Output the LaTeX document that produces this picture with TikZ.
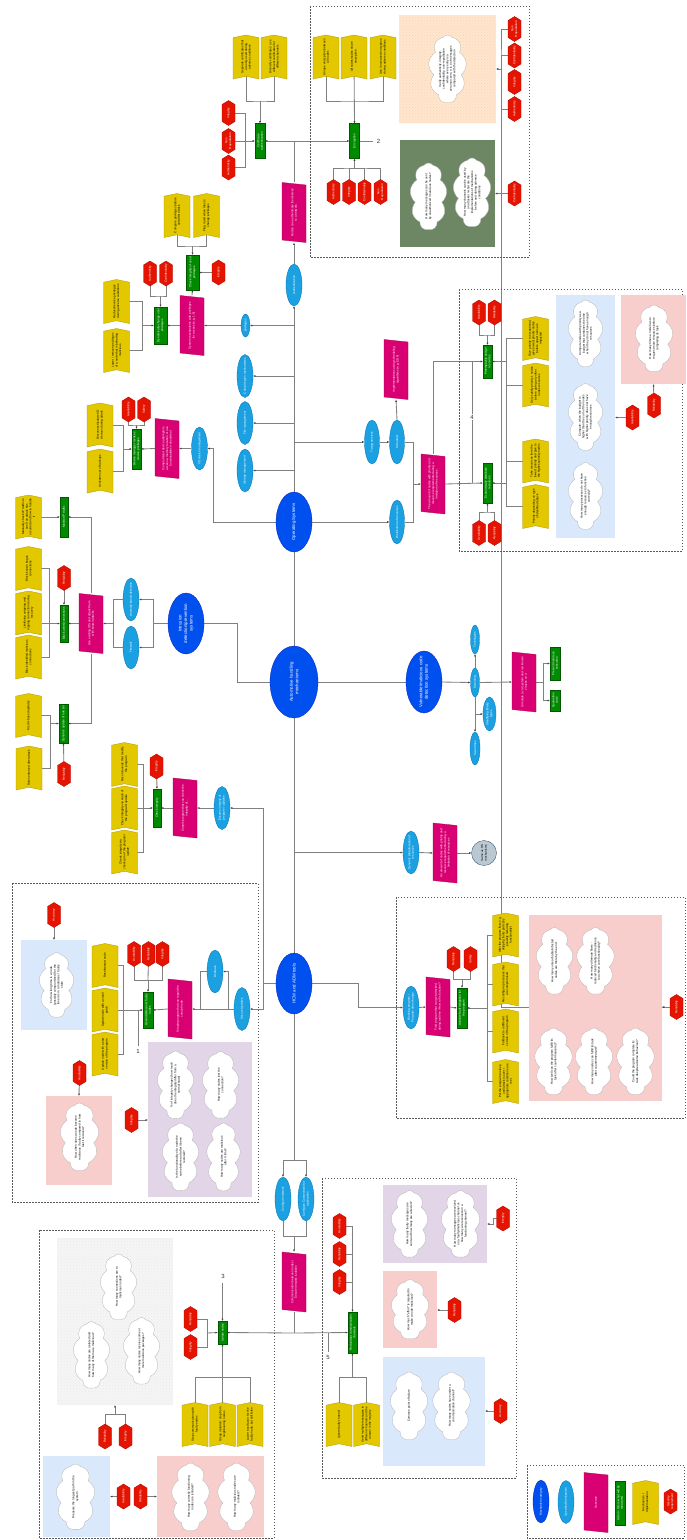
\documentclass[tikz,border=0pt]{standalone}
\usepackage{fontspec}
\setmainfont{Liberation Sans}
\usepackage{graphicx}
\usetikzlibrary{shapes.geometric,shapes.symbols,arrows.meta,patterns,fit,calc}
\definecolor{catf}{HTML}{0050EF}\definecolor{catd}{HTML}{001DBC}
\definecolor{mecf}{HTML}{1BA1E2}\definecolor{mecd}{HTML}{006EAF}
\definecolor{magc}{HTML}{D80073}\definecolor{magd}{HTML}{A50040}
\definecolor{grc}{HTML}{008A00}\definecolor{grd}{HTML}{005700}
\definecolor{yelc}{HTML}{E3C800}\definecolor{yeld}{HTML}{B09500}
\definecolor{redc}{HTML}{E51400}\definecolor{redd}{HTML}{B20000}
\definecolor{peachc}{HTML}{FFE6CC}\definecolor{peachd}{HTML}{F9D6B8}
\definecolor{olivc}{HTML}{6D8764}
\definecolor{bluec}{HTML}{DAE8FC}\definecolor{pinkc}{HTML}{F8CECC}
\definecolor{purpc}{HTML}{E1D5E7}\definecolor{greyc}{HTML}{F5F5F5}
\definecolor{circc}{HTML}{BAC8D3}\definecolor{circd}{HTML}{23445D}
\definecolor{lncol}{HTML}{808080}
\pgfdeclarelayer{bg}\pgfsetlayers{bg,main}
\newcommand\rtx[2]{\rotatebox{90}{\parbox{\dimexpr#1\relax}{\centering #2}}}
\tikzset{
 ln/.style={draw=lncol,line width=0.85pt},
 arr/.style={ln,-{Latex[length=2.2pt,width=2pt,color=black!75]}},
 small/.style={font=\fontsize{3}{3.6}\selectfont},
 yelf/.style={fill=yelc,draw=yeld,line width=0.3pt},
 yelt/.style={small,inner sep=0,minimum width=26pt,minimum height=44pt,text=black},
 redf/.style={fill=redc,draw=redd,line width=0.3pt},
 redt/.style={small,inner sep=0,minimum width=13pt,minimum height=25pt,text=white},
 magf/.style={fill=magc,draw=magd,line width=0.3pt},
 magt/.style={small,inner sep=0,minimum width=24pt,minimum height=60pt,text=white},
 grf/.style={rectangle,fill=grc,draw=grd,line width=0.3pt,inner sep=0},
 grt/.style={small,inner sep=0,text=white},
 mech/.style={ellipse,fill=mecf,draw=mecd,line width=0.3pt,inner sep=0},
 mecht/.style={small,inner sep=0,text=white},
 cat/.style={ellipse,fill=catf,draw=catd,line width=0.3pt,inner sep=0},
 catt/.style={font=\fontsize{4.4}{5.4}\selectfont,inner sep=0,text=white},
 cloudst/.style={cloud,cloud puffs=9,cloud puff arc=110,cloud ignores aspect,fill=white,draw=black!30,line width=0.3pt,inner sep=0},
 cltxt/.style={small,inner sep=0,text=black},
 boxst/.style={rectangle,inner sep=0,line width=0.3pt},
 dashbox/.style={draw=black!65,line width=0.5pt,dash pattern=on 1.5pt off 1.5pt},
 numl/.style={font=\fontsize{6}{7}\selectfont,inner sep=0.6pt,fill=white,text=black!80}
}
\newcommand\YE[4]{%
 \fill[yelf] (#2-13,#3-19.3) -- (#2,#3-22) -- (#2+13,#3-19.3) -- (#2+13,#3+22) -- (#2,#3+19.3) -- (#2-13,#3+22) -- cycle;
 \node[yelt] (#1) at (#2,#3) {\rtx{37pt}{#4}};}
\newcommand\RE[4]{%
 \fill[redf] (#2,#3-12.5) -- (#2+6.5,#3-8.5) -- (#2+6.5,#3+8.5) -- (#2,#3+12.5) -- (#2-6.5,#3+8.5) -- (#2-6.5,#3-8.5) -- cycle;
 \node[redt] (#1) at (#2,#3) {\rtx{22pt}{#4}};}
\newcommand\MG[4]{%
 \fill[magf] (#2-12,#3-30) -- (#2+12,#3-27.5) -- (#2+12,#3+30) -- (#2-12,#3+27.5) -- cycle;
 \node[magt] (#1) at (#2,#3) {\rtx{50pt}{#4}};}
\newcommand\GR[6]{%
 \node[grf,minimum width=#4pt,minimum height=#5pt] (#1) at (#2,#3) {};
 \node[grt] (#1t) at (#1) {\rtx{#5pt-3pt}{#6}};}
\newcommand\EL[7]{%
 \node[#1,minimum width=#5pt,minimum height=#6pt] (#2) at (#3,#4) {};
 \node[#1t] (#2t) at (#2) {\rtx{#6pt*17/20}{#7}};}
\newcommand\CL[6]{%
 \node[cloudst,minimum width=#4pt,minimum height=#5pt] (#1) at (#2,#3) {};
 \node[cltxt] (#1t) at (#1) {\rtx{#5pt*7/10}{#6}};}
\begin{document}
\begin{tikzpicture}[x=1pt,y=-1pt]
\useasboundingbox (0,0) rectangle (686,1540);
% ---------- dashed frames
\draw[dashbox] (310,6) rectangle (529,257);
\draw[dashbox] (459,289) rectangle (682,551);
\draw[dashbox] (12,883) rectangle (258,1202);
\draw[dashbox] (396,897) rectangle (685,1118);
\draw[dashbox] (39,1230) rectangle (274,1538);
\draw[dashbox] (322,1178) rectangle (516,1478);
\draw[dashbox] (527,1465) rectangle (684,1538);
% ---------- boxes
\node[boxst,fit={(399,15) (496,123)},fill=peachc] (peach) {};
\fill[pattern=crosshatch dots,pattern color=peachd] (399,15) rectangle (496,123);
\node[boxst,fit={(400,140) (495,247)},fill=olivc] (olive) {};
\node[boxst,fit={(556,295) (615,538)},fill=bluec] (blueA) {};
\node[boxst,fit={(621,295) (686,384)},fill=pinkc] (pinkA) {};
\node[boxst,fit={(21,940) (87,1030)},fill=bluec] (blueB) {};
\node[boxst,fit={(46,1096) (112,1185)},fill=pinkc] (pinkB) {};
\node[boxst,fit={(148,1042) (252,1197)},fill=purpc] (purpB) {};
\node[boxst,fit={(529,915) (662,1101)},fill=pinkc] (pinkC) {};
\node[boxst,fit={(57,1238) (173,1405)},fill=greyc] (greyD) {};
\fill[pattern=crosshatch dots,pattern color=black!8] (57,1238) rectangle (173,1405);
\node[boxst,fit={(43,1456) (110,1537)},fill=bluec] (blueD) {};
\node[boxst,fit={(157,1456) (264,1537)},fill=pinkc] (pinkD) {};
\node[boxst,fit={(383,1185) (487,1263)},fill=purpc] (purpE) {};
\node[boxst,fit={(383,1271) (437,1348)},fill=pinkc] (pinkE) {};
\node[boxst,fit={(383,1357) (485,1466)},fill=bluec] (blueE) {};
% ---------- categories
\EL{cat}{OS}{294}{522}{36}{60}{Operating Systems}
\EL{cat}{Auto}{294}{682}{48}{72}{Automotive handling mechanisms}
\EL{cat}{Intr}{186}{623.5}{36}{61}{Intrusion detection/prevention systems}
\EL{cat}{Vul}{424}{682}{36}{62}{Vulnerable/malicious code detection systems}
\EL{cat}{HCM}{294}{983.5}{36}{61}{HCM and ADM tools}
% ---------- top region
\YE{Ya}{246}{57}{Separate certificates that are only used during adverse conditions}
\YE{Yb}{274}{57}{Diversify certificates: use different certificates for different channels}
\YE{Yc}{326}{57}{Unique encryption between all nodes}
\YE{Yd}{354}{57}{All nodes/nodes share encryption}
\YE{Ye}{383}{57}{Use / Increased encryption during adverse conditions}
\GR{Gcert}{260}{141}{10}{35}{Certificate authentication}
\GR{Genc}{354.5}{141}{10}{35}{Encryption}
\RE{Rca}{228.5}{113}{Integrity}
\RE{Rcb}{228.5}{141}{Non Repudiation}
\RE{Rcc}{228.5}{167.5}{Authenticity}
\RE{Rea}{333.5}{192}{Authenticity}
\RE{Reb}{349}{192}{Integrity}
\RE{Rec}{364.5}{192}{Confidentiality}
\RE{Red}{380.5}{192}{Non Repudiation}
\node[numl] (n2) at (378.5,141) {2};
\MG{Mauth}{294}{212.5}{Nodes can authenticate themselves to a network.}
\EL{mech}{Auth}{294}{285}{16}{42}{Authentication}
\CL{Cpe}{447.5}{69}{38}{68}{Verify authenticity, integrity, confidentiality, non-repudiation where every entry is a zero/non-zero, n is \# of messages compared with the detection}
\RE{Rpa}{514.5}{29}{Non Repudiation}
\RE{Rpb}{514.5}{55.5}{Confidentiality}
\RE{Rpc}{514.5}{82}{Integrity}
\RE{Rpd}{514.5}{109}{Authenticity}
\CL{Col}{428.5}{196.5}{37}{67}{How many messages can be sent by unauthorized / malicious nodes?}
\CL{Co2}{472}{192.5}{38}{69}{How many channels can be used by an attacker / what are the implementations of mechanisms before and during adverse conditions}
\RE{Rol}{514.5}{193.5}{Confidentiality}
% ---------- privileges
\YE{Yf}{177}{215.5}{Compare privileges before and after attack}
\YE{Yg}{206.5}{215.5}{Flag / alert when tries to change privileges}
\GR{Gchk}{192.5}{272.5}{13}{35}{Check integrity of used privileges}
\RE{Rck}{218.5}{272.5}{Integrity}
\RE{Rda}{150}{273.5}{Authenticity}
\RE{Rdb}{166}{273.5}{Confidentiality}
\GR{Gdyn}{160.5}{325.5}{13}{37}{Dynamically change user privileges}
\MG{Mpriv}{192}{325.5}{System mechanisms with privileges for access (e.g. 1-5)}
\EL{mech}{Epriv}{245.5}{325.5}{9}{23}{privileges}
\YE{Yh}{116.5}{301.5}{Reduce/revoke privileges during adverse conditions}
\YE{Yi}{116.5}{350.5}{Lower / remove privileges of a node that is behaving malicious}
\EL{mech}{Ecrit}{245}{376}{16}{43}{Critical region mechanisms}
\EL{mech}{Efile}{245}{423}{16}{43}{File management}
\EL{mech}{Estor}{245}{470.5}{16}{43}{Storage management}
% ---------- I/O
\EL{mech}{Eio}{199.5}{448.5}{16}{43}{I/O device management}
\MG{Mio}{167}{448.5}{Compromised device attempts to access a memory location or use functionalities it should not}
\GR{Gio}{136.5}{449}{9}{40}{Device manager revokes device privileges}
\RE{Ria}{128.5}{409.5}{Availability}
\RE{Rib}{144}{409.5}{Safety}
\YE{Yj}{100}{425}{Disconnect/isolate I/O devices during attack}
\YE{Yk}{100}{471}{Activates set of backups}
% ---------- OS right
\EL{mech}{Etim}{372}{442}{15}{44}{Timing services}
\EL{mech}{Esch}{397}{442}{15}{44}{Scheduler}
\EL{mech}{Edist}{397}{522}{15}{44}{Distribution of resources}
\MG{Msch}{396}{369.5}{Implementations using scheduling algorithms (e.g. EDF)}
\MG{Mres}{433}{484}{The amount of nodes with priority and resource requirements during a limitation of resources.}
\GR{Gpre}{487.5}{361.5}{9}{33}{Preemptively assign resources}
\GR{Geco}{487.5}{483}{9}{40}{Economically distribute resources}
\node[numl] (n4) at (472,417) {4};
\RE{Rsa}{479}{312.5}{Availability}
\RE{Rsb}{494.5}{312.5}{Reliability}
\RE{Rsc}{479}{533}{Availability}
\RE{Rsd}{494.5}{533}{Reliability}
\YE{Yl}{535.5}{338.5}{Give priority to exceptional, give lowest priority nodes before upper ones are impacted}
\YE{Ym}{535.5}{385}{Only satisfy priority 1 nodes before giving any other nodes resources}
\YE{Yn}{535.5}{461}{Take resources from the lowest priority and give to the highest priority nodes}
\YE{Yo}{535.5}{506.5}{Priority depending on type of identified attack}
\CL{Cba}{585.5}{333.5}{35}{67}{Compute nodes with priority as a budget that combines the time when they do not have enough resources}
\CL{Cbb}{585.5}{417}{35}{67}{Compute: when the budget is higher than the sum of the nodes with higher priority does not have enough resources}
\CL{Cbc}{585.5}{496}{35}{67}{How many processes do not have enough resources to function correctly?}
\RE{Rba}{632.5}{417.5}{Availability}
\CL{Cpa}{654}{338.5}{38}{67}{How many times a node has to request more resources before completing its task}
\RE{Rpk}{654}{405.5}{Reliability}
% ---------- intrusion
\YE{Yp}{28.5}{517}{Manually check IP traffic to see if an attack has occurred and how to handle it}
\GR{Gmon}{64}{517}{8}{40}{Monitor IP traffic}
\RE{Rbl}{64}{578}{Reliability}
\GR{Gblk}{64}{623.5}{8}{37}{Block users/connections}
\YE{Yq}{28.5}{568.5}{Block known bogus connections}
\YE{Yr}{28.5}{613}{Limit/stop outgoing and ingoing connection during recovery}
\YE{Ys}{28.5}{657}{Block identified malicious connections}
\MG{Mids}{91}{623.5}{Use existing IDS and attack them with known attacks}
\EL{mech}{Eano}{131}{599.5}{16}{43}{Anomaly-based detection}
\EL{mech}{Efw}{131}{647.5}{16}{43}{Firewall}
\GR{Gdu}{63.5}{723.5}{9}{39}{Dynamic update of rule set}
\YE{Yt}{28.5}{715.5}{ML-/AI-based updates}
\YE{Yu}{29}{768}{Rules enforced after attack}
\RE{Rdu}{64}{774}{Reliability}
% ---------- vulnerable code
\EL{mech}{Escan}{475}{682.5}{9}{29}{Scanning}
\EL{mech}{Etech}{475}{639.5}{9}{29}{Techniques}
\EL{mech}{Etimes}{475}{748.5}{10}{33}{Scan times}
\EL{mech}{Espot}{489.5}{714}{13}{34}{Identifying library types}
\MG{Mvul}{524}{682}{Simulate a car system and run known viruses on it}
\GR{Gprev}{555}{663.5}{10}{33}{Prevent malicious execution}
\GR{Gquar}{555}{700.5}{10}{21}{Quarantine code}
% ---------- integrity
\YE{Yv}{124.5}{764.5}{Record events that modify the program}
\YE{Yw}{124.5}{808}{Check integrity via Hash of the program/ update}
\YE{Yx}{124.5}{852}{Check integrity via checksum of the program/ update}
\RE{Rci}{156.5}{766.5}{Integrity}
\GR{Gci}{157}{808}{8}{38}{Check integrity}
\MG{Mci}{185}{808}{Simple program that can check the integrity of...}
\EL{mech}{Eint}{222}{808}{16}{43}{Ensures integrity of program / updates}
% ---------- dynamic allocation
\EL{mech}{Edyn}{411}{852.5}{16}{43}{Dynamic (de)allocation of resources}
\MG{Mdyn}{445}{853}{An amount of nodes with priority and resource requirements during a limitation of resources}
\node[circle,fill=circc,draw=circd,line width=0.3pt,minimum size=25pt,inner sep=0] (Csame) at (484,853) {};
\node[small,inner sep=0] (Csamet) at (Csame) {\rtx{20pt}{Same as OS mechanisms}};
% ---------- HCM left
\EL{mech}{Esec}{242}{1009}{16}{43}{Secure Updates}
\EL{mech}{Erol}{215}{971.5}{16}{43}{Rollback}
\MG{Mrep}{180}{1009}{Simple program that can repair the corrupt node}
\GR{Grec}{148}{1010}{10}{36}{Override/Recover faulty nodes}
\RE{Rra}{134}{954}{Availability}
\RE{Rrb}{148.5}{954}{Reliability}
\RE{Rrc}{162.5}{954}{Integrity}
\YE{Yy}{105}{965.5}{Reset/restart node}
\YE{Yz}{105}{1010}{Update node with a small patch}
\YE{YA}{105}{1054}{Update node with a new version of the program}
\node[numl] (n1) at (138,1051) {1};
\RE{Racc}{54}{915}{Accuracy}
\CL{Cbl}{56.5}{985}{35}{65}{For how long time is a node (possibly compromised) for the time it is in a malicious / faulty state}
\RE{Rav}{79.5}{1073}{Availability}
\CL{Cpk}{79.5}{1137}{39}{68}{How often does a node become malicious / faulty compared to how fast it recovers?}
\RE{Rpi}{131.5}{1120}{Integrity}
\CL{Cpu1}{175.5}{1085}{37}{68}{\% of integrity changes (how much does the integrity differ from a normal state)}
\CL{Cpu2}{220.5}{1085}{37}{67}{How many nodes lost the connection?}
\CL{Cpu3}{180.5}{1157}{37}{68}{Is the functionality of a node the same before and after it been restored?}
\CL{Cpu4}{223.5}{1157}{34}{68}{How many nodes are malicious after X time?}
% ---------- HCM right
\EL{mech}{Eblk}{411}{1007.5}{16}{43}{Blocking program / Program does change}
\MG{Mblk}{438}{1007}{Find program that can get attacked during runtime / How to fix function?}
\GR{Gact}{462}{1008}{10}{40}{Activate fault mitigation for the program}
\RE{Rha}{453.5}{959}{Reliability}
\RE{Rhb}{470.5}{959}{Safety}
\YE{YB}{505.5}{935}{Alter the program flow, e.g. skipping faulty parts (by possibly reducing functionality)}
\YE{YC}{505.5}{984}{Reconfigure processes that are compromised}
\YE{YD}{505.5}{1031}{Fallback to a different version of the program}
\YE{YE}{505.5}{1081.5}{Put the program to sleep until attack is over / appropriate conditions are met}
\CL{Cpc1}{554.5}{961}{37}{67}{How many unreachable/infected nodes are there by the end}
\CL{Cpc2}{595.5}{961}{38}{67}{How many alternate flows - reduced functionality and resilience to achieve core functionality?}
\CL{Cpc3}{553.5}{1061.5}{38}{67}{How well can the program fulfill its task after countermeasures?}
\CL{Cpc4}{594}{1061.5}{38}{67}{How many nodes can fulfill its task after countermeasure?}
\CL{Cpc5}{635.5}{1061.5}{38}{67}{Could the program complete its task despite adverse behaviour?}
\RE{Rpc}{676.5}{1007}{Reliability}
% ---------- bottom
\EL{mech}{Ecnet}{283}{1199}{16}{44}{Configure network}
\EL{mech}{Ecapp}{306}{1199}{16}{44}{Configure Connections for application}
\MG{Mnet}{294}{1282}{Communication between nodes / Ensure network isolation}
\GR{Giso}{222.5}{1332.5}{9}{23}{Isolate nodes}
\GR{Gred}{352.5}{1332.5}{9}{41}{Redundant communication channels}
\node[numl] (n3) at (223,1276) {3};
\node[numl] (n5) at (328,1357) {5};
\RE{Rja}{190.5}{1319}{Reliability}
\RE{Rjb}{190.5}{1347}{Integrity}
\YE{YF}{195}{1424.5}{Stop communication with faulty nodes}
\YE{YG}{222.5}{1424.5}{Group isolation: stop from neighbouring nodes}
\YE{YH}{250}{1424.5}{Lower trust factor for the faulty node, but still listen}
\CL{Cg1}{118.5}{1287}{37}{66}{How many connections are to malicious nodes?}
\CL{Cg2}{91.5}{1355}{37}{67}{How many nodes are isolated and how many of them are malicious?}
\CL{Cg3}{141.5}{1351}{37}{67}{How many nodes receive some or more malicious packages?}
\RE{Rga}{105}{1436.5}{Reliability}
\RE{Rgb}{125.5}{1436.5}{Integrity}
\CL{Cbd}{75.5}{1497}{39}{66}{Measure the longest path in the system}
\RE{Rka}{123.5}{1496.5}{Availability}
\RE{Rkb}{140.5}{1496.5}{Reliability}
\CL{Cpd1}{190.5}{1497}{38}{68}{How many correctly functioning nodes are isolated?}
\CL{Cpd2}{236.5}{1497}{38}{68}{How many malicious nodes are isolated?}
\RE{Rma}{339.5}{1226}{Availability}
\RE{Rmb}{339.5}{1254}{Reliability}
\RE{Rmc}{339.5}{1282}{Integrity}
\YE{YI}{339}{1424.5}{Ignore faulty channel}
\YE{YJ}{366.5}{1424.5}{Send multiple messages in different channels and the answer is the majority}
\CL{Ce1}{409.5}{1224}{37}{67}{How many faulty messages are sent and how many are acted on?}
\CL{Ce2}{460.5}{1224}{39}{67}{How many messages are received on a faulty/malicious channel vs how many are received on a functioning channel?}
\RE{Rea2}{503}{1218.5}{Integrity}
\CL{Ce3}{410}{1309.5}{38}{60}{How much ``effort'' is required to make a node malicious?}
\RE{Reb2}{454.5}{1310}{Reliability}
\CL{Ce4}{409}{1406}{38}{68}{Common point of failure}
\CL{Ce5}{451.5}{1406}{38}{68}{How many nodes have under a communication channel?}
\RE{Rec2}{500.5}{1411}{Accuracy}
% ---------- legend
\EL{cat}{Lcat}{541}{1501.5}{16}{43}{}
\node[small,text=white,inner sep=0] (Lcatt2) at (Lcat) {\rtx{36pt}{Mechanism category}};
\EL{mech}{Lmec}{566}{1502}{16}{43}{Specified Mechanism}
\MG{Lmag}{596}{1502.5}{Usecase}
\GR{Lgr}{620}{1503}{10}{44}{Action - this is what will be measured}
\YE{Lye}{645.5}{1502.5}{Mechanism / Implementation}
\RE{Lre}{670.5}{1501.5}{Security requirement}
% ================= connectors
\begin{pgfonlayer}{bg}
\coordinate (c1) at (260,101); \coordinate (c2) at (354.5,101);
\draw[ln] (Ya.center) |- (c1) -| (Yb.center); \draw[arr] (c1) -- (Gcert.north);
\draw[ln] (Yc.center) |- (c2) -| (Ye.center); \draw[arr] (Yd.center) -- (Genc.north);
\coordinate (c3) at (245.5,141);
\draw[ln] (Rca.center) -| (c3) |- (Rcc.center); \draw[arr] (Rcb.center) -- (Gcert.west);
\coordinate (c4) at (354.5,168);
\draw[ln] (Rea.center) |- (c4) -| (Red.center); \draw[ln] (Reb.center) |- (c4); \draw[ln] (Rec.center) |- (c4);
\draw[arr] (c4) -- (Genc.south);
\coordinate (c5) at (373,141); \draw[ln] (Genc.east) -- (c5);
\coordinate (jtop) at (294,141);
\draw[ln] (Mauth.north) -- (jtop); \draw[arr] (jtop) -- (Gcert.east); \draw[arr] (jtop) -- (Genc.west);
\draw[arr] (Auth.north) -- (Mauth.south);
\coordinate (c6) at (501,69);
\draw[ln] (Rpa.center) -| (c6) |- (Rpd.center); \draw[ln] (Rpb.center) -| (c6); \draw[ln] (Rpc.center) -| (c6);
\draw[arr] (c6) -- (peach.east);
\draw[arr] (Rol.center) -- (olive.east);
% OS spine
\draw[arr] (OS.north) -- (Auth.south);
\draw[arr] (OS.north |- Epriv) -- (Epriv.east);
\draw[arr] (OS.north |- Ecrit) -- (Ecrit.east);
\draw[arr] (OS.north |- Efile) -- (Efile.east);
\draw[arr] (OS.north |- Estor) -- (Estor.east);
\draw[arr] (OS.north |- Etim) -- (Etim.west);
\draw[arr] (Etim.east) -- (Esch.west);
\draw[arr] (OS.east) -- (Edist.west);
\draw[ln] (OS.south) -- (Auto.north);
% privileges
\draw[arr] (Epriv.west) -- (Mpriv.east);
\draw[arr] (Mpriv.west) -- (Gdyn.east);
\draw[arr] (Mpriv.north) -- (Gchk.south);
\coordinate (c7) at (192.5,246);
\draw[ln] (Yf.center) |- (c7) -| (Yg.center); \draw[arr] (c7) -- (Gchk.north);
\draw[arr] (Rck.center) -- (Gchk.east);
\coordinate (c8) at (160.5,296);
\draw[ln] (Rda.center) |- (c8) -| (Rdb.center); \draw[arr] (c8) -- (Gdyn.north);
\coordinate (c9) at (142,325.5);
\draw[ln] (Yh.center) -| (c9); \draw[ln] (Yi.center) -| (c9); \draw[arr] (c9) -- (Gdyn.west);
% I/O
\coordinate (c10) at (213,448.5);
\draw[arr] (OS.west) -| (c10) -- (Eio.east);
\draw[arr] (Eio.west) -- (Mio.east); \draw[arr] (Mio.west) -- (Gio.east);
\coordinate (c11) at (136.5,425);
\draw[ln] (Ria.center) |- (c11) -| (Rib.center); \draw[arr] (c11) -- (Gio.north);
\coordinate (c12) at (123,449);
\draw[ln] (Yj.center) -| (c12); \draw[ln] (Yk.center) -| (c12); \draw[arr] (c12) -- (Gio.west);
% OS right
\draw[arr] (Esch.north) -- (Msch.south);
\coordinate (c43) at (413,484);
\draw[ln] (Esch.east) -| (c43); \draw[ln] (Edist.east) -| (c43); \draw[arr] (c43) -- (Mres.west);
\draw[arr] (Mres.north) |- (Gpre.west);
\draw[arr] (Mres.east) -- (Geco.west);
\coordinate (c44) at (472,361.5); \coordinate (c45) at (472,483);
\draw[ln] (c44) -- (c45);
\coordinate (c46) at (487.5,335);
\draw[ln] (Rsa.center) |- (c46) -| (Rsb.center); \draw[arr] (c46) -- (Gpre.north);
\coordinate (c49) at (487.5,512);
\draw[ln] (Rsc.center) |- (c49) -| (Rsd.center); \draw[arr] (c49) -- (Geco.south);
\coordinate (c47) at (506,361.5);
\draw[ln] (Yl.center) -| (c47); \draw[ln] (Ym.center) -| (c47); \draw[ln] (Yn.center) -| (c47);
\draw[arr] (c47) -- (Gpre.east);
\coordinate (c48) at (506,483);
\draw[ln] (Yn.center) -| (c48); \draw[ln] (Yo.center) -| (c48); \draw[arr] (c48) -- (Geco.east);
\draw[arr] (Rba.center) -- (blueA.east |- Rba);
\draw[arr] (Rpk.center) -- (pinkA.south);
% intrusion
\coordinate (c13) at (237,682);
\draw[ln] (Intr.east) -| (c13) -- (Auto.west);
\coordinate (c14) at (153,623.5);
\draw[ln] (Intr.west) -- (c14); \draw[arr] (c14) |- (Eano.east); \draw[arr] (c14) |- (Efw.east);
\coordinate (c15) at (113,623.5);
\draw[ln] (Eano.west) -| (c15); \draw[ln] (Efw.west) -| (c15); \draw[arr] (c15) -- (Mids.east);
\draw[arr] (Mids.west) -- (Gblk.east);
\draw[arr] (Mids.north) |- (Gmon.east);
\draw[arr] (Mids.south) |- (Gdu.east);
\draw[arr] (Yp.center) -- (Gmon.west);
\draw[arr] (Rbl.center) -- (Gblk.north);
\coordinate (c16) at (49,623.5);
\draw[ln] (Yq.center) -| (c16); \draw[ln] (Ys.center) -| (c16); \draw[arr] (Yr.east |- c16) -- (Gblk.west);
\coordinate (c17) at (50,723.5);
\draw[ln] (Yt.center) -| (c17); \draw[ln] (Yu.center) -| (c17); \draw[arr] (c17) -- (Gdu.west);
\draw[arr] (Rdu.center) -- (Gdu.south);
% vulnerable
\draw[ln] (Auto.east) -- (Vul.west);
\draw[arr] (Vul.east) -- (Escan.west);
\draw[arr] (Escan.north) -- (Etech.south);
\draw[arr] (Escan.south) -- (Etimes.north);
\draw[arr] (Escan.south |- Espot) -- (Espot.west);
\draw[arr] (Escan.east) -- (Mvul.west);
\coordinate (c18) at (543,682);
\draw[ln] (Mvul.east) -- (c18); \draw[arr] (c18) |- (Gprev.west); \draw[arr] (c18) |- (Gquar.west);
% HCM spine
\draw[ln] (Auto.south) -- (HCM.north);
\draw[arr] (Auto.south |- Edyn) -- (Edyn.west);
\draw[arr] (Edyn.east) -- (Mdyn.west); \draw[arr] (Mdyn.east) -- (Csame.west);
\coordinate (c19) at (263,983.5);
\draw[ln] (HCM.west) -- (c19); \draw[arr] (c19) |- (Eint.east); \draw[arr] (c19) |- (Esec.east);
\draw[arr] (Eint.west) -- (Mci.east); \draw[arr] (Mci.west) -- (Gci.east);
\draw[arr] (Rci.center) -- (Gci.north);
\coordinate (c20) at (143,808);
\draw[ln] (Yv.center) -| (c20); \draw[ln] (Yx.center) -| (c20); \draw[arr] (Yw.center) -- (Gci.west);
\draw[arr] (Esec.west) -- (Mrep.east);
\coordinate (c21) at (228,1009); \coordinate (c22) at (200,1009);
\draw[arr] (c21) |- (Erol.east); \draw[ln] (Erol.west) -| (c22);
\draw[arr] (Mrep.west) -- (Grec.east);
\coordinate (c23) at (148,980);
\draw[ln] (Rra.center) |- (c23) -| (Rrc.center); \draw[ln] (Rrb.center) -- (c23); \draw[arr] (c23) -- (Grec.north);
\coordinate (c24) at (123,1010);
\draw[ln] (Yy.center) -| (c24); \draw[ln] (YA.center) -| (c24); \draw[arr] (Yz.center) -- (Grec.west);
\coordinate (c25) at (138,1010); \coordinate (c26) at (138,1046);
\draw[ln] (c25) -- (c26);
\draw[arr] (Racc.center) -- (blueB.north);
\draw[arr] (Rav.center) -- (pinkB.north);
\draw[arr] (Rpi.center) -- (purpB.west |- Rpi);
\coordinate (c27) at (358,1007.5);
\draw[ln] (HCM.east) -| (c27); \draw[arr] (c27) -- (Eblk.west);
\draw[arr] (Eblk.east) -- (Mblk.west); \draw[arr] (Mblk.east) -- (Gact.west);
\coordinate (c28) at (462,979);
\draw[ln] (Rha.center) |- (c28) -| (Rhb.center); \draw[arr] (c28) -- (Gact.north);
\coordinate (c29) at (487,1008);
\draw[ln] (YB.center) -| (c29); \draw[ln] (YC.center) -| (c29); \draw[ln] (YD.center) -| (c29); \draw[ln] (YE.center) -| (c29);
\draw[arr] (c29) -- (Gact.east);
\draw[arr] (Rpc.center) -- (pinkC.east |- Rpc);
% bottom
\coordinate (c30) at (294,1160);
\draw[ln] (HCM.south) -- (c30); \draw[arr] (c30) -| (Ecnet.north); \draw[arr] (c30) -| (Ecapp.north);
\coordinate (c31) at (294,1236);
\draw[ln] (Ecnet.south) |- (c31) -| (Ecapp.south); \draw[arr] (c31) -- (Mnet.north);
\coordinate (c32) at (294,1333);
\draw[ln] (Mnet.south) -- (c32); \draw[arr] (c32) -- (Giso.east); \draw[arr] (c32) -- (Gred.west);
\coordinate (c33) at (328,1333); \coordinate (c34) at (328,1352);
\draw[ln] (c33) -- (c34);
\coordinate (c35) at (222.5,1283);
\draw[arr] (c35) -- (Giso.north);
\coordinate (c36) at (207,1333);
\draw[ln] (Rja.center) -| (c36); \draw[ln] (Rjb.center) -| (c36); \draw[arr] (c36) -- (Giso.west);
\coordinate (c37) at (222.5,1377);
\draw[ln] (YF.center) |- (c37) -| (YH.center); \draw[arr] (YG.center) -- (Giso.south);
\coordinate (c38) at (352.5,1282);
\draw[ln] (Rma.center) -| (c38); \draw[ln] (Rmb.center) -| (c38); \draw[ln] (Rmc.center) -- (c38);
\draw[arr] (c38) -- (Gred.north);
\coordinate (c39) at (352.5,1377);
\draw[ln] (YI.center) |- (c39); \draw[ln] (YJ.center) |- (c39); \draw[arr] (c39) -- (Gred.south);
\coordinate (c40) at (115,1414);
\draw[ln] (Rga.center) |- (c40) -| (Rgb.center); \draw[arr] (c40) -- (greyD.south);
\draw[arr] (Rka.center) -- (blueD.east |- Rka);
\draw[arr] (Rkb.center) -- (pinkD.west |- Rkb);
\coordinate (c50) at (493,1218.5);
\draw[arr] (Rea2.center) -| (c50) |- (purpE.east);
\draw[arr] (Reb2.center) -- (pinkE.east |- Reb2);
\draw[arr] (Rec2.center) -- (blueE.east |- Rec2);
\end{pgfonlayer}
\end{tikzpicture}
\end{document}
